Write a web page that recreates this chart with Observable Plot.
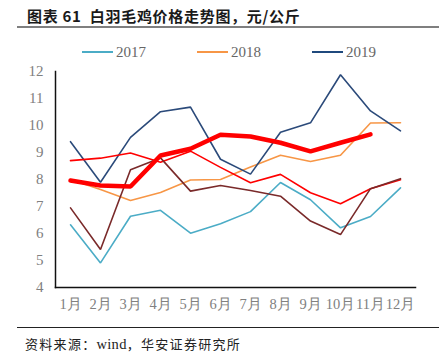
<!DOCTYPE html>
<html><head><meta charset="utf-8">
<script src="https://cdn.jsdelivr.net/npm/d3@7"></script>
<script src="https://cdn.jsdelivr.net/npm/@observablehq/plot@0.6"></script>
<style>
body{margin:0;background:#fff;}
#wrap{position:relative;width:439px;height:361px;overflow:hidden;}
#title{position:absolute;left:27px;top:5px;font-family:"Noto Sans CJK SC",sans-serif;font-weight:bold;font-size:15px;color:#1a1a1a;white-space:nowrap;letter-spacing:0.7px;}
#rule1{position:absolute;left:17px;top:26px;width:422px;height:2px;background:#7f7f7f;}
#legend{position:absolute;top:42px;left:0;width:439px;height:20px;font-family:"Liberation Serif",serif;font-size:15px;color:#666;}
.li{position:absolute;top:0;display:flex;align-items:center;height:20px;}
.sw{width:31px;height:2px;margin-right:3px;}
#rule2{position:absolute;left:17px;top:327px;width:422px;height:1px;background:#222;}
#cap{position:absolute;left:25px;top:334px;font-family:"Noto Sans CJK SC",sans-serif;font-size:13px;color:#222;white-space:nowrap;letter-spacing:1.3px;}
#cap .w{font-family:"Liberation Serif",serif;font-size:14.5px;letter-spacing:0.3px;}
#chart{position:absolute;left:0;top:0;}
</style></head>
<body>
<div id="wrap">
  <div id="chart"></div>
  <div id="title">图表 61&nbsp;&nbsp;白羽毛鸡价格走势图，元/公斤</div>
  <div id="rule1"></div>
  <div id="legend"></div>
  <div id="rule2"></div>
  <div id="cap">资料来源：<span class="w">wind</span>，华安证券研究所</div>
</div>
<script>
const months = ["1月","2月","3月","4月","5月","6月","7月","8月","9月","10月","11月","12月"];
const yTicks = [4,5,6,7,8,9,10,11,12];
const v2017 = [6.32,4.91,6.64,6.86,6.01,6.36,6.81,7.89,7.25,6.21,6.63,7.69];
const v2018 = [8.0,7.63,7.22,7.52,7.98,8.0,8.46,8.90,8.67,8.90,10.09,10.10];
const v2019 = [9.40,7.90,9.56,10.51,10.68,8.75,8.20,9.75,10.10,11.88,10.54,9.80];
const vRedThin = [8.70,8.79,8.98,8.64,9.05,8.45,7.88,8.19,7.51,7.10,7.66,7.99];
const vBrown = [6.95,5.41,8.36,8.80,7.57,7.78,7.59,7.38,6.46,5.96,7.66,8.03];
const vRedThick = [7.96,7.78,7.74,8.89,9.14,9.66,9.59,9.36,9.04,9.36,9.67];
const legendNames = ["2017","2018","2019"];
const legendColors = ["#4bacc6","#f79646","#1f497d"];

function rows(vals){ return vals.map((v,i)=>({month:months[i], value:v})); }

const series = [
  {data:rows(v2017), stroke:"#4bacc6", w:1.6},
  {data:rows(v2018), stroke:"#f79646", w:1.6},
  {data:rows(v2019), stroke:"#2b4a7a", w:1.6},
  {data:rows(vRedThin), stroke:"#ff0000", w:1.6},
  {data:rows(vBrown), stroke:"#7a2a2a", w:1.6},
  {data:rows(vRedThick), stroke:"#ff0000", w:4.5}
];

const chart = Plot.plot({
  width:439, height:361,
  marginTop:71, marginBottom:74, marginLeft:55, marginRight:24,
  style:{fontFamily:"Liberation Serif", background:"transparent"},
  x:{type:"point", domain:months, padding:0.5},
  y:{domain:[4,12]},
  marks:[
    Plot.axisY(yTicks, {tickSize:0, tickPadding:12, fontSize:15, fill:"#808080", label:null}),
    Plot.axisX(months, {tickSize:0, tickPadding:11, fontSize:14.5, fill:"#808080", label:null}),
    ...series.map(s => Plot.line(s.data, {x:"month", y:"value", stroke:s.stroke, strokeWidth:s.w, strokeLinejoin:"miter", curve:"linear"})),
    Plot.frame({anchor:"left", stroke:"#111", strokeWidth:1.5}),
    Plot.frame({anchor:"bottom", stroke:"#111", strokeWidth:1.5})
  ]
});
document.getElementById("chart").appendChild(chart);

const lx = [82,197,312];
const leg = document.getElementById("legend");
legendNames.forEach((n,i)=>{
  const d = document.createElement("div");
  d.className="li"; d.style.left = lx[i]+"px";
  d.innerHTML = `<span class="sw" style="background:${legendColors[i]}"></span><span>${n}</span>`;
  leg.appendChild(d);
});
</script>
</body></html>
